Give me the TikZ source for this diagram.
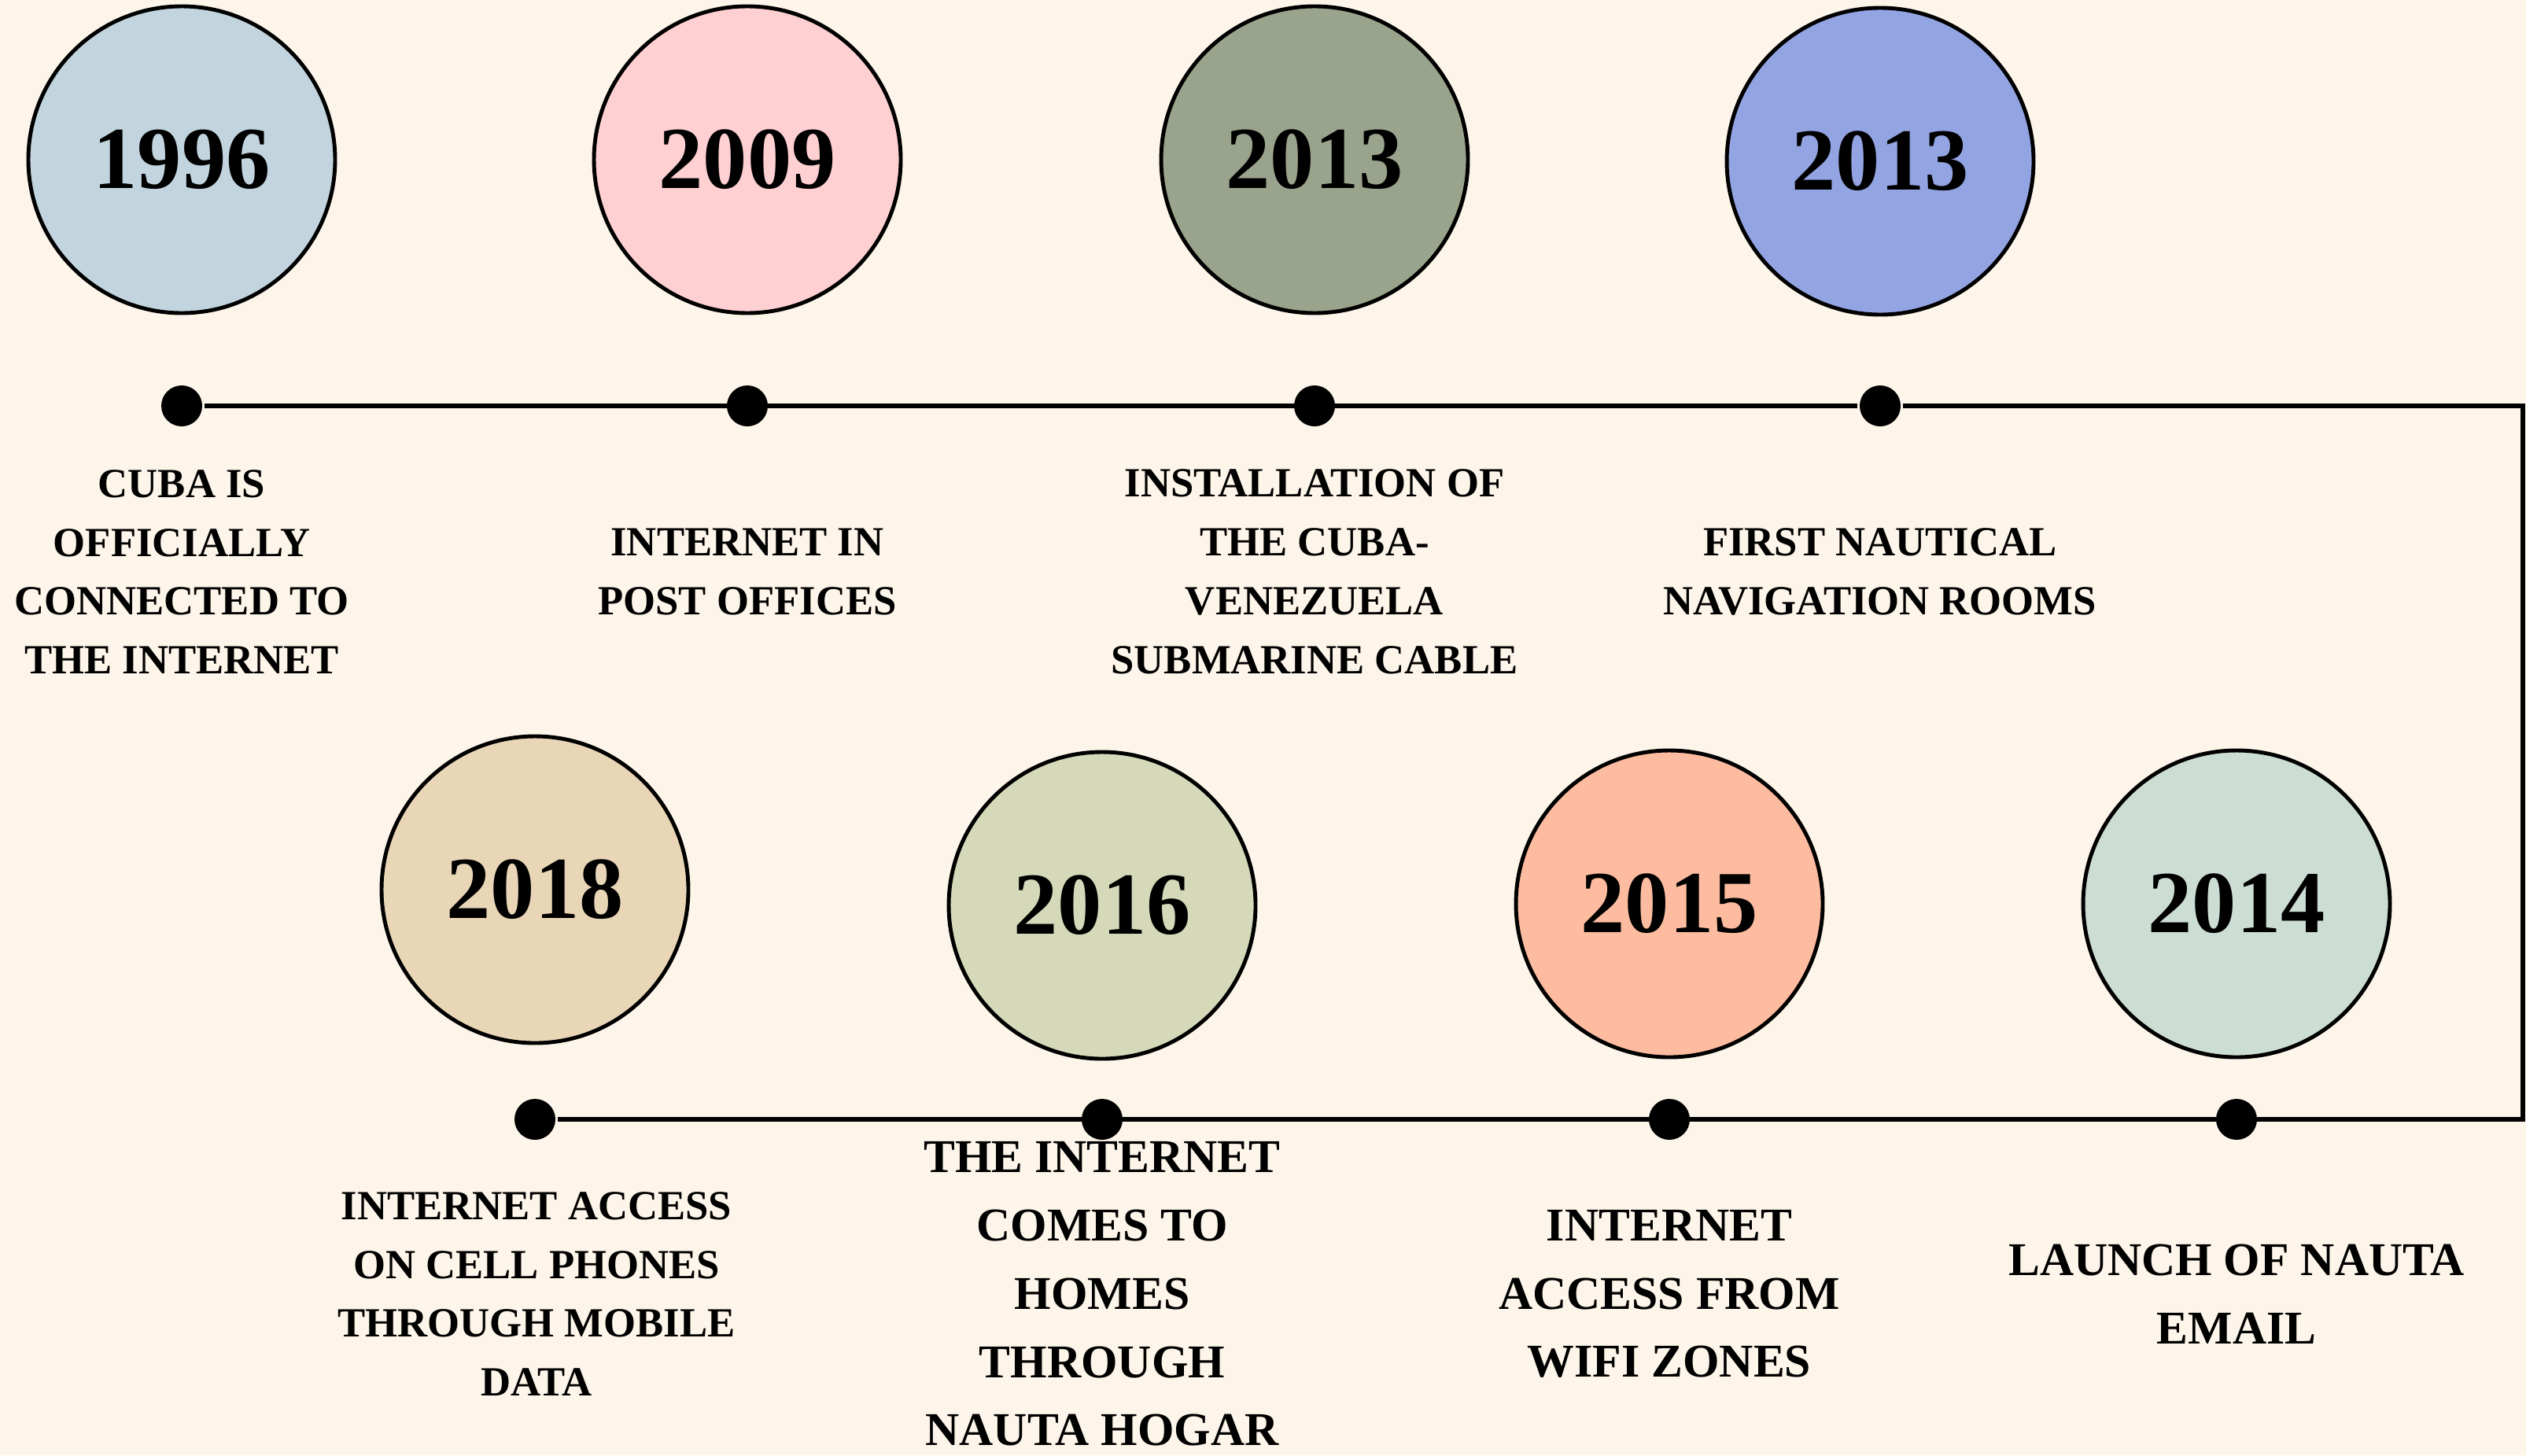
\documentclass[tikz,border=0pt]{standalone}
\usepackage{fontspec}
\setmainfont{Liberation Serif}
\usepackage{tikz}
\tikzset{
every picture/.style={line width=1.6pt}
}
\definecolor{paper}{HTML}{FDF5E9}
\definecolor{skyblue}{HTML}{C2D5DF}
\definecolor{rosepink}{HTML}{FFD0D2}
\definecolor{sage}{HTML}{9AA38C}
\definecolor{periwinkle}{HTML}{93A4E2}
\definecolor{tan}{HTML}{E9D6B7}
\definecolor{paleolive}{HTML}{D5D9B9}
\definecolor{peach}{HTML}{FDBBA0}
\definecolor{mint}{HTML}{CCDDD3}

\begin{document}
\begin{tikzpicture}[
  year/.style={circle, draw, line width=1.4pt, minimum size=3.9cm, inner sep=0pt,
    font=\fontsize{32}{38}\selectfont\bfseries},
  dot/.style={circle, fill=black, inner sep=0pt, minimum size=0.52cm},
  note/.style={align=center, font=\fontsize{15}{21.3}\selectfont\bfseries},
  bignote/.style={align=center, font=\fontsize{17}{24.7}\selectfont\bfseries}
]
  \fill[paper] (0,0) rectangle (32.11,-18.5);
  \useasboundingbox (0,0) rectangle (32.11,-18.5);

  % top row
  \foreach \n/\x/\cy/\yr/\col/\txt in {
    1/2.31/-2.03/1996/skyblue/{CUBA IS\\OFFICIALLY\\CONNECTED TO\\THE INTERNET},
    2/9.50/-2.03/2009/rosepink/{INTERNET IN\\POST OFFICES},
    3/16.71/-2.03/2013/sage/{INSTALLATION OF\\THE CUBA-\\VENEZUELA\\SUBMARINE CABLE},
    4/23.90/-2.05/2013/periwinkle/{FIRST NAUTICAL\\NAVIGATION ROOMS}} {
    \node[year, fill=\col] (c\n) at (\x,\cy) {\yr};
    \node[dot] (d\n) at (\x,-5.16) {};
    \node[note] (t\n) at (\x,-7.27) {\txt};
  }

  % bottom row
  \foreach \n/\x/\cy/\yr/\col in {
    5/28.43/-11.49/2014/mint,
    6/21.22/-11.49/2015/peach,
    7/14.01/-11.51/2016/paleolive,
    8/6.80/-11.31/2018/tan} {
    \node[year, fill=\col] (c\n) at (\x,\cy) {\yr};
    \node[dot] (d\n) at (\x,-14.23) {};
  }
  \node[bignote] (t5) at (28.43,-16.45) {LAUNCH OF NAUTA\\EMAIL};
  \node[bignote] (t6) at (21.22,-16.45) {INTERNET\\ACCESS FROM\\WIFI ZONES};
  \node[bignote] (t7) at (14.01,-16.45) {THE INTERNET\\COMES TO\\HOMES\\THROUGH\\NAUTA HOGAR};
  \node[note] (t8) at (6.82,-16.45) {INTERNET ACCESS\\ON CELL PHONES\\THROUGH MOBILE\\DATA};

  % timeline
  \coordinate (turnA) at (32.07,-5.16);
  \coordinate (turnB) at (32.07,-14.23);
  \draw (d1) -- (d4) -- (turnA) -- (turnB) -- (d8);
\end{tikzpicture}
\end{document}
